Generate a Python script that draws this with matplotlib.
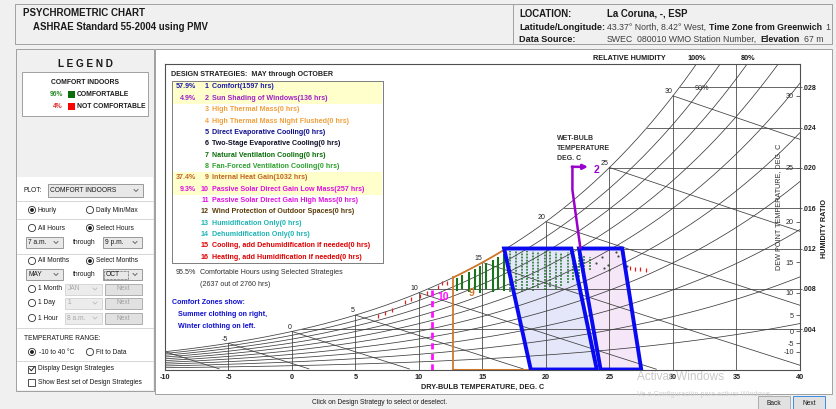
import numpy as np
import matplotlib.pyplot as plt
from matplotlib.patches import Rectangle, Circle, Polygon

plt.rcParams['font.family'] = ['Liberation Sans', 'DejaVu Sans']

W_PX, H_PX = 837, 409

# ---- psychrometric chart grid ----
P_ATM = 101.325  # kPa
db_lines = [-5, 0, 5, 10, 15, 20, 25, 30, 35]
db_ticks = [-10, -5, 0, 5, 10, 15, 20, 25, 30, 35, 40]
rh_levels = [0.1, 0.2, 0.3, 0.4, 0.5, 0.6, 0.7, 0.8, 0.9, 1.0]
wb_levels = [-10, -5, 0, 5, 10, 15, 20, 25, 30]
wb_labelled = [-5, 0, 5, 10, 15, 20, 25, 30]
w_levels = [0.004, 0.008, 0.012, 0.016, 0.020, 0.024, 0.028]
w_labels = ['.004', '.008', '.012', '.016', '.020', '.024', '.028']
dp_ticks = [-10, -5, 0, 5, 10, 15, 20, 25, 30]

# ---- comfort zones and strategy boundaries (dry bulb C, humidity ratio) ----
winter_t = [18.8, 16.7, 22.0, 24.0]
winter_w = [0.0, 0.012, 0.012, 0.0]
summer_t = [24.3, 22.6, 26.0, 27.5]
summer_w = [0.0, 0.012, 0.012, 0.0]
heat_gain_t = 12.7      # 9 internal heat gain
solar_gain_t = 11.0     # 10 passive solar
shade_t = [22.7, 22.08, 22.08]
shade_w = [0.0121, 0.0178, 0.0201]
shade_tip_t = 23.3

# ---- hourly data, May-Oct 7am-9pm ----
dense_t = [13.0, 13.4, 13.9, 14.4, 14.8, 15.3, 15.8, 16.2, 16.7]
dense_lo = [0.0078, 0.0080, 0.0077, 0.0079, 0.0076, 0.0080, 0.0077, 0.0079, 0.0078]
dense_hi = [0.0091, 0.0094, 0.0097, 0.0100, 0.0103, 0.0106, 0.0109, 0.0112, 0.0115]
sparse_t = [17.2, 17.6, 18.1, 18.5, 19.0, 19.4, 19.9, 20.3, 20.8, 21.2, 21.7, 22.1, 22.6, 23.0, 23.5]
sparse_lo = [0.0077, 0.0079, 0.0077, 0.0080, 0.0078, 0.0081, 0.0079, 0.0082, 0.0080, 0.0083,
             0.0086, 0.0089, 0.0092, 0.0096, 0.0099]
sparse_hi = [0.0118, 0.0118, 0.0117, 0.0118, 0.0118, 0.0117, 0.0118, 0.0118, 0.0117, 0.0116,
             0.0117, 0.0116, 0.0115, 0.0113, 0.0112]
summer_pt_t = [23.9, 24.4, 24.9, 25.5, 25.7, 26.1, 26.4, 24.6, 25.0]
summer_pt_w = [0.0106, 0.0112, 0.0104, 0.0117, 0.0113, 0.0117, 0.0103, 0.0101, 0.0099]
hot_t = [6.8, 7.3, 7.9, 8.9, 9.4, 10.1, 10.6, 11.5, 11.8, 12.2, 26.6, 27.0, 27.4, 27.9]
hot_w = [0.0053, 0.0056, 0.0059, 0.0067, 0.0070, 0.0073, 0.0076, 0.0082, 0.0086, 0.0086,
         0.0101, 0.0100, 0.0100, 0.0099]

# ---- design strategies ----
strategy_names = ["Comfort", "Sun Shading of Windows", "High Thermal Mass",
                  "High Thermal Mass Night Flushed", "Direct Evaporative Cooling",
                  "Two-Stage Evaporative Cooling", "Natural Ventilation Cooling",
                  "Fan-Forced Ventilation Cooling", "Internal Heat Gain",
                  "Passive Solar Direct Gain Low Mass", "Passive Solar Direct Gain High Mass",
                  "Wind Protection of Outdoor Spaces", "Humidification Only",
                  "Dehumidification Only", "Cooling, add Dehumidification if needed",
                  "Heating, add Humidification if needed"]
strategy_hours = [1597, 136, 0, 0, 0, 0, 0, 0, 1032, 257, 0, 0, 0, 0, 0, 0]
total_hours = 2760
comfort_hours = 2637
pct_comfortable = 96
pct_not_comfortable = 4

strategy_colors = ['#1c1ca8', '#a020c8', '#f0a03c', '#f0a03c', '#10108c', '#101028',
                   '#0a6e0a', '#2ea02e', '#c0641e', '#e010e0', '#e010e0', '#5a3c0a',
                   '#1eb4b4', '#1eb4b4', '#e00000', '#e00000']
LINE = '#3c3c3c'


def p_ws(t):
    return 0.61094 * np.exp(17.625 * t / (t + 243.04))


def w_rh(t, rh=1.0):
    pw = rh * p_ws(t)
    return 0.622 * pw / (P_ATM - pw)


def w_wb(t, twb):
    ws = w_rh(twb)
    return ((2501 - 2.326 * twb) * ws - 1.006 * (t - twb)) / (2501 + 1.86 * t - 4.186 * twb)


def t_sat(w):
    tt = np.linspace(-20, 50, 3000)
    return np.interp(w, w_rh(tt), tt)


fig = plt.figure(figsize=(W_PX / 100, H_PX / 100), dpi=100)
fig.patch.set_facecolor('#f0f0f0')

ui = fig.add_axes([0, 0, 1, 1], label='ui')
ui.set_xlim(0, W_PX)
ui.set_ylim(H_PX, 0)
ui.axis('off')
ui.set_zorder(0)

fg = fig.add_axes([0, 0, 1, 1], label='fg')
fg.set_xlim(0, W_PX)
fg.set_ylim(H_PX, 0)
fg.axis('off')
fg.set_zorder(5)
fg.patch.set_alpha(0)


def txt(a, x, y, s, size=4.8, color='#1a1a1a', weight='normal', ha='left', **kw):
    return a.text(x, y, s, fontsize=size, color=color, fontweight=weight, ha=ha, va='center', **kw)


def box(a, x0, y0, x1, y1, fc='white', ec='#a0a0a0', lw=0.7, **kw):
    a.add_patch(Rectangle((x0, y0), x1 - x0, y1 - y0, fc=fc, ec=ec, lw=lw, **kw))


def radio(x, y, on):
    ui.add_patch(Circle((x, y), 3.6, fc='white', ec='#333333', lw=0.6))
    if on:
        ui.add_patch(Circle((x, y), 1.9, fc='#1a1a1a', ec='none'))


def check(x, y, on):
    box(ui, x - 3.5, y - 3.5, x + 3.5, y + 3.5, ec='#333333', lw=0.6)
    if on:
        ui.plot([x - 2.4, x - 0.7, x + 2.4], [y - 0.2, y + 1.8, y - 2.2], color='#1a1a1a', lw=0.7)


def combo(x0, y0, x1, y1, s, enabled=True):
    box(ui, x0, y0, x1, y1, fc='#e8e8e8' if enabled else '#ececec',
        ec='#8a8a8a' if enabled else '#d0d0d0', lw=0.6)
    yc = (y0 + y1) / 2
    txt(ui, x0 + 2.5, yc, s, color='#1a1a1a' if enabled else '#a8a8a8')
    ui.plot([x1 - 9, x1 - 7, x1 - 5], [yc - 1, yc + 1, yc - 1],
            color='#555555' if enabled else '#bbbbbb', lw=0.6)


def button(x0, y0, x1, y1, s, enabled=True, ec='#adadad'):
    box(ui, x0, y0, x1, y1, fc='#e1e1e1', ec=ec, lw=0.7)
    txt(ui, (x0 + x1) / 2, (y0 + y1) / 2, s, ha='center',
        color='#1a1a1a' if enabled else '#a0a0a0')


def runs(a, x, y, parts, size, gap=3):
    r = fig.canvas.get_renderer()
    for s, bold, col in parts:
        t = txt(a, x, y, s, size=size, weight='bold' if bold else 'normal', color=col)
        x += t.get_window_extent(renderer=r).width + gap


# ---- window frame ----
box(ui, 15, 4, 832, 44, fc='#f0f0f0')
box(ui, 513, 4, 832, 44, fc='#f0f0f0')
txt(ui, 23, 13, 'PSYCHROMETRIC CHART', size=7.0, weight='bold')
txt(ui, 33, 27, 'ASHRAE Standard 55-2004 using PMV', size=6.9, weight='bold')
txt(ui, 519, 14, 'LOCATION:', size=6.9, weight='bold')
txt(ui, 607, 14, 'La Coruna, -, ESP', size=6.9, weight='bold')
txt(ui, 519, 27, 'Latitude/Longitude:', size=6.6, weight='bold')
txt(ui, 519, 39, 'Data Source:', size=6.6, weight='bold')
runs(ui, 607, 27, [('43.37\u00b0 North, 8.42\u00b0 West,', False, '#404040'),
                   ('Time Zone from Greenwich', True, '#1a1a1a'), ('1', False, '#404040')], 6.3)
runs(ui, 607, 39, [('SWEC', False, '#404040'), ('080010 WMO Station Number,', False, '#404040'),
                   ('Elevation', True, '#1a1a1a'), ('67 m', False, '#404040')], 6.3, gap=4)

# ---- left panel ----
box(ui, 16, 49, 154, 391, fc='#f0f0f0')
box(ui, 17, 177, 153, 390, fc='white', ec='none', lw=0)
txt(ui, 85, 64, 'L E G E N D', size=7.2, weight='bold', ha='center')
box(ui, 22, 72, 148, 116, fc='white', ec='#a0a0a0')
txt(ui, 85, 82, 'COMFORT INDOORS', size=4.9, weight='bold', ha='center')
txt(ui, 63, 94, '%d%%' % pct_comfortable, size=4.9, weight='bold', ha='right', color='#2e8b2e')
box(ui, 68, 91, 75, 98, fc='#0a6e0a', ec='none')
txt(ui, 77, 94, 'COMFORTABLE', size=4.9, weight='bold')
txt(ui, 63, 107, '%d%%' % pct_not_comfortable, size=4.9, weight='bold', ha='right', color='#e03030')
box(ui, 68, 103, 75, 110, fc='#ff0000', ec='none')
txt(ui, 77, 107, 'NOT COMFORTABLE', size=4.9, weight='bold')

for yy in [200.7, 219, 254, 327.7, 361]:
    ui.plot([17, 153], [yy, yy], color='#d0d0d0', lw=0.6)
txt(ui, 24, 190.5, 'PLOT:')
combo(48, 184, 143, 197, 'COMFORT INDOORS')
radio(32, 210, True)
txt(ui, 38, 210, 'Hourly')
radio(90, 210, False)
txt(ui, 96, 210, 'Daily Min/Max')
radio(32, 228, False)
txt(ui, 38, 228, 'All Hours')
radio(90, 228, True)
txt(ui, 96, 228, 'Select Hours')
combo(26, 237, 63, 248, '7 a.m.')
txt(ui, 73, 242.5, 'through')
combo(103, 237, 142, 248, '9 p.m.')
radio(32, 261, False)
txt(ui, 38, 261, 'All Months')
radio(90, 261, True)
txt(ui, 96, 261, 'Select Months')
combo(26, 269, 63, 280, 'MAY')
txt(ui, 73, 274.5, 'through')
combo(103, 269, 142, 280, 'OCT')
ui.add_patch(Rectangle((104.5, 270.5), 24, 8, fc='none', ec='#333333', lw=0.5, ls=(0, (1, 1))))
for yy, lab, val in [(289, '1 Month', 'JAN'), (303, '1 Day', '1'), (318, '1 Hour', '8 a.m.')]:
    radio(32, yy, False)
    txt(ui, 38, yy, lab)
    combo(65, yy - 5.5, 102, yy + 5.5, val, enabled=False)
    button(105, yy - 5.5, 142, yy + 5.5, 'Next', enabled=False)
txt(ui, 24, 338, 'TEMPERATURE RANGE:')
radio(32, 352, True)
txt(ui, 39, 352, '-10 to 40 \u00b0C')
radio(90, 352, False)
txt(ui, 96, 352, 'Fit to Data')
check(32, 369, True)
txt(ui, 38, 369, 'Display Design Strategies')
check(32, 382, False)
txt(ui, 38, 382, 'Show Best set of Design Strategies')

# ---- chart panel ----
box(ui, 155, 49, 832, 394, fc='white')

ax = fig.add_axes([165 / W_PX, 1 - 369.5 / H_PX, 635 / W_PX, 305.5 / H_PX], label='chart')
ax.set_zorder(2)
ax.patch.set_alpha(0)
W_TOP = 0.0303
ax.set_xlim(-10, 40)
ax.set_ylim(0, W_TOP)
# dew point scale shares the right edge
ax2 = ax.twinx()
ax2.set_ylim(0, W_TOP)
ax2.patch.set_alpha(0)
ax2.set_zorder(3)

tt = np.linspace(-10, 40, 500)
for rh in rh_levels:
    ax.plot(tt, w_rh(tt, rh), color=LINE, lw=0.55)
for t in db_lines:
    ax.plot([t, t], [0, min(w_rh(t), W_TOP)], color=LINE, lw=0.55)
for w in w_levels:
    ax.plot([t_sat(w), 40], [w, w], color=LINE, lw=0.55)
for twb in wb_levels:
    tl = np.linspace(twb, 40, 200)
    wl = w_wb(tl, twb)
    keep = wl >= 0
    ax.plot(tl[keep], wl[keep], color=LINE, lw=0.55)
for twb in wb_labelled:
    ax.annotate(str(twb), (twb, w_rh(twb)), xytext=(-0.5, 0.5), textcoords='offset points',
                ha='right', va='bottom', fontsize=5, color='#202020')

# comfort zones
ax.add_patch(Polygon(list(zip(winter_t, winter_w)), closed=True, fc='#e4e6fa', ec='none'))
ax.add_patch(Polygon(list(zip(summer_t, summer_w)), closed=True, fc='#f5e7f8', ec='none'))

# hourly points
ax.vlines(dense_t, dense_lo, dense_hi, color='#1a741a', lw=1.5, zorder=3)
ax.vlines(sparse_t, sparse_lo, sparse_hi, color='#1a741a', lw=1.1, linestyles=(0, (1.2, 0.8)), zorder=3)
ax.scatter(summer_pt_t, summer_pt_w, s=2.5, color='#3c503c', zorder=3, linewidths=0)
ax.scatter(hot_t, hot_w, marker='|', s=9, color='#e02020', linewidths=0.9, zorder=3)

ax.add_patch(Polygon(list(zip(winter_t, winter_w)), closed=True, fc='none', ec='#0a0af0',
                     lw=2.8, joinstyle='miter', zorder=4))
ax.add_patch(Polygon(list(zip(summer_t, summer_w)), closed=True, fc='none', ec='#0a0af0',
                     lw=2.8, joinstyle='miter', zorder=4))

# 9 internal heat gain
ORANGE = '#d2782c'
ts = np.linspace(heat_gain_t, t_sat(winter_w[1]), 40)
ax.plot([heat_gain_t, heat_gain_t], [0, w_rh(heat_gain_t)], color=ORANGE, lw=1.3, zorder=3)
ax.plot(ts, w_rh(ts), color=ORANGE, lw=1.3, zorder=3)
ax.plot([heat_gain_t, winter_t[0]], [0, 0], color=ORANGE, lw=2.2, zorder=3)
ax.text(14.1, 0.0076, '9', color=ORANGE, fontsize=7.5, fontweight='bold', ha='center', va='center', zorder=5)

# 10 passive solar
ax.plot([solar_gain_t, solar_gain_t], [0, w_rh(solar_gain_t)], color='#ff10ff', lw=2.0,
        ls=(0, (2.2, 1.6)), zorder=3)
ax.text(11.9, 0.0072, '10', color='#ff10ff', fontsize=7.5, fontweight='bold', ha='center', va='center', zorder=5)

# 2 sun shading
PURPLE = '#9a00cc'
ax.plot(shade_t, shade_w, color=PURPLE, lw=1.8, zorder=5)
ax.annotate('', xy=(shade_tip_t, shade_w[-1]), xytext=(shade_t[-1] - 0.05, shade_w[-1]),
            arrowprops=dict(arrowstyle='-|>', color=PURPLE, lw=1.8, mutation_scale=7,
                            shrinkA=0, shrinkB=0), zorder=5)
ax.text(24.0, shade_w[-1] - 0.0003, '2', color=PURPLE, fontsize=7.5, fontweight='bold',
        ha='center', va='center')

# axes frame and ticks
for sp in ax.spines.values():
    sp.set_color('#505050')
    sp.set_linewidth(0.8)
ax.set_xticks(db_ticks)
ax.set_xticklabels([str(v) for v in db_ticks], fontsize=5.2, fontweight='bold', color='#202020')
ax.tick_params(axis='x', length=0, pad=3)
ax.yaxis.tick_right()
ax.set_yticks(w_levels)
ax.set_yticklabels(w_labels, fontsize=5.0, fontweight='bold', color='#202020')
ax.tick_params(axis='y', left=False, labelleft=False, right=True, labelright=True,
               length=1.5, pad=0.3, color='#505050', width=0.6)
ax.set_xlabel('DRY-BULB TEMPERATURE, DEG. C', fontsize=5.2, fontweight='bold', labelpad=2, color='#202020')

ax2.set_yticks([w_rh(d) for d in dp_ticks])
ax2.set_yticklabels([str(d) for d in dp_ticks], fontsize=5.2, color='#303030')
ax2.tick_params(axis='y', direction='in', length=3, pad=-4.5, color='#505050', width=0.6)
for lbl in ax2.get_yticklabels():
    lbl.set_horizontalalignment('right')
for sp in ax2.spines.values():
    sp.set_visible(False)

txt(fg, 779, 207, 'DEW POINT TEMPERATURE, DEG. C', size=5.2, color='#303030', ha='center', rotation=90)
txt(fg, 825, 228, 'HUMIDITY RATIO', size=5.2, weight='bold', ha='center', rotation=90)
txt(fg, 629, 59, 'RELATIVE HUMIDITY', size=5.2, weight='bold', ha='center')
txt(fg, 697, 59, '100%', size=5.2, weight='bold', ha='center')
txt(fg, 748, 59, '80%', size=5.2, weight='bold', ha='center')
txt(fg, 702, 89, '90%', size=5.2, ha='center', color='#303030')
for i, s in enumerate(['WET-BULB', 'TEMPERATURE', 'DEG. C']):
    txt(fg, 557, 138 + 10 * i, s, size=5.0, weight='bold', color='#303030')

# ---- design strategy list ----
txt(fg, 171, 75, 'DESIGN STRATEGIES:  MAY through OCTOBER', size=5.1, weight='bold', color='#202020')
row0, dy = 87, 11.35
box(fg, 172, 81, 383, 263, fc='white', ec='#808080', lw=0.7)
for i, (name, hrs, col) in enumerate(zip(strategy_names, strategy_hours, strategy_colors)):
    y = row0 + i * dy
    if hrs > 0:
        box(fg, 172.5, y - dy / 2, 382.5, y + dy / 2, fc='#ffffcc', ec='none', lw=0)
        txt(fg, 196, y, '%.1f%%' % (100.0 * hrs / total_hours), size=5.1, weight='bold',
            color=col, ha='right')
    txt(fg, 209, y, str(i + 1), size=5.1, weight='bold', color=col, ha='right')
    txt(fg, 212, y, '%s(%d hrs)' % (name, hrs), size=5.1, weight='bold', color=col)
fg.add_patch(Rectangle((172, 81), 211, 182, fc='none', ec='#808080', lw=0.7))

txt(fg, 176, 273, '%.1f%%' % (100.0 * comfort_hours / total_hours), size=5.1, color='#303030')
txt(fg, 200, 273, 'Comfortable Hours using Selected Strategies', size=5.1, color='#303030')
txt(fg, 200, 285, '(%d out of %d hrs)' % (comfort_hours, total_hours), size=5.1, color='#303030')
txt(fg, 172, 302.5, 'Comfort Zones show:', size=5.1, weight='bold', color='#1010d0')
txt(fg, 178, 314.5, 'Summer clothing on right,', size=5.1, weight='bold', color='#1010d0')
txt(fg, 178, 326, 'Winter clothing on left.', size=5.1, weight='bold', color='#1010d0')

# ---- bottom bar ----
txt(fg, 380, 402, 'Click on Design Strategy to select or deselect.', size=4.8, ha='center')
button(758, 396, 790, 411, 'Back')
button(793, 396, 825, 411, 'Next', ec='#3c8ce6')

# OS activation watermark
txt(fg, 637, 377, 'Activar Windows', size=8.5, color='#c4c4c4', alpha=0.9)
txt(fg, 637, 394, 'Ve a Configuraci\u00f3n para activar Windows.', size=5.3, color='#cccccc', alpha=0.9)

fig.savefig('out.png', dpi=100, facecolor=fig.get_facecolor())
